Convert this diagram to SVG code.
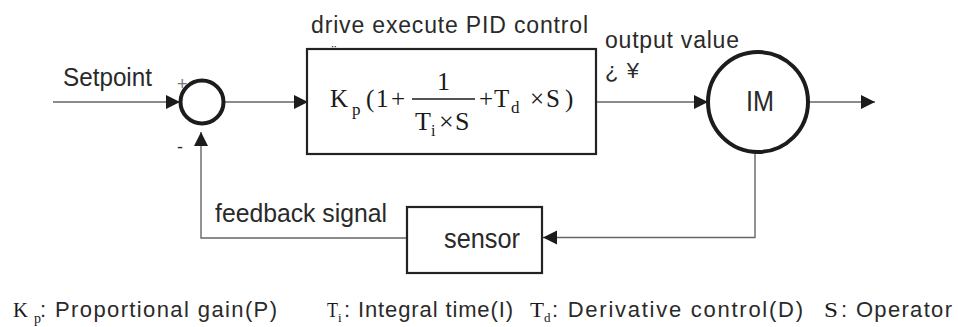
<svg xmlns="http://www.w3.org/2000/svg" width="958" height="327" viewBox="0 0 958 327">
<style>
.s{font-family:"Liberation Sans",Arial,sans-serif;fill:#2a2a2a}
.m{font-family:"Liberation Serif","Times New Roman",serif;fill:#1a1a1a}
.ln{fill:none;stroke:#666;stroke-width:1.4}
.bx{fill:#fff;stroke:#222;stroke-width:2.2}
.ci{fill:#fff;stroke:#1e1c1a;stroke-width:4}
</style>
<defs>
<marker id="ah" markerUnits="userSpaceOnUse" markerWidth="16" markerHeight="16" refX="14" refY="7" orient="auto">
<path d="M0,0 L14,7 L0,14 Z" fill="#1e1c1a"/>
</marker>
</defs>
<rect width="958" height="327" fill="#fff"/>
<text class="s" x="330" y="56" font-size="14">ü</text>
<g id="connectors">
<path class="ln" d="M53,102 H180" marker-end="url(#ah)"/>
<path class="ln" d="M225,102 H308" marker-end="url(#ah)"/>
<path class="ln" d="M596,102 H708" marker-end="url(#ah)"/>
<path class="ln" d="M809,102 H875" marker-end="url(#ah)"/>
<path class="ln" d="M755,153 V237.5 H543" marker-end="url(#ah)"/>
<path class="ln" d="M407,238 H201 V132" marker-end="url(#ah)"/>
</g>
<g id="setpoint-label">
<text class="s" x="63" y="86" font-size="25" textLength="89" lengthAdjust="spacingAndGlyphs">Setpoint</text>
</g>
<g id="sum">
<circle class="ci" cx="202" cy="102" r="21.5"/>
<text class="s" x="177" y="90" font-size="18" style="fill:#777">+</text>
<text class="s" x="177" y="153" font-size="18">-</text>
</g>
<g id="pid">
<text class="s" x="311" y="33" font-size="23" textLength="277">drive execute PID control</text>
<rect class="bx" x="307" y="49" width="289" height="105"/>
<text class="m" y="107" font-size="25"><tspan x="330">K</tspan><tspan x="366">(</tspan><tspan x="376">1</tspan><tspan x="391">+</tspan><tspan x="479">+</tspan><tspan x="494">T</tspan><tspan x="530">×</tspan><tspan x="546">S</tspan><tspan x="565">)</tspan></text>
<text class="m" x="352" y="115" font-size="17">p</text>
<text class="m" x="511" y="113" font-size="17">d</text>
<line x1="412" y1="99" x2="475" y2="99" stroke="#1a1a1a" stroke-width="1.7"/>
<text class="m" x="437" y="90" font-size="26">1</text>
<text class="m" y="130" font-size="26"><tspan x="415">T</tspan><tspan x="439">×</tspan><tspan x="455">S</tspan></text>
<text class="m" x="431" y="136" font-size="16">i</text>
</g>
<g id="output-label">
<text class="s" x="605" y="48" font-size="23" textLength="134">output value</text>
<text class="s" x="605" y="78" font-size="22" textLength="34">¿¥</text>
</g>
<g id="im">
<circle class="ci" cx="758" cy="102" r="50"/>
<text class="s" x="746" y="111" font-size="30" textLength="28" lengthAdjust="spacingAndGlyphs">IM</text>
</g>
<g id="sensor">
<rect class="bx" x="407" y="207" width="135" height="66"/>
<text class="s" x="444" y="248" font-size="27" textLength="76" lengthAdjust="spacingAndGlyphs">sensor</text>
</g>
<g id="feedback-label">
<text class="s" x="215" y="222" font-size="25" textLength="172" lengthAdjust="spacingAndGlyphs">feedback signal</text>
</g>
<g id="legend">
<text class="m" x="13" y="317" font-size="20" textLength="15" lengthAdjust="spacingAndGlyphs">K</text>
<text class="m" x="34" y="323" font-size="14">p</text>
<text class="s" x="40" y="317" font-size="22" textLength="237">: Proportional gain(P)</text>
<text class="m" x="327" y="317" font-size="20" textLength="11" lengthAdjust="spacingAndGlyphs">T</text>
<text class="m" x="338" y="322" font-size="13">i</text>
<text class="s" x="344" y="317" font-size="22" textLength="169">: Integral time(I)</text>
<text class="m" x="530" y="317" font-size="20" textLength="14" lengthAdjust="spacingAndGlyphs">T</text>
<text class="m" x="544" y="322" font-size="13">d</text>
<text class="s" x="552" y="317" font-size="22" textLength="251">: Derivative control(D)</text>
<text class="m" x="824" y="317" font-size="22" textLength="14" lengthAdjust="spacingAndGlyphs">S</text>
<text class="s" x="841" y="317" font-size="22" textLength="111">: Operator</text>
</g>
</svg>
